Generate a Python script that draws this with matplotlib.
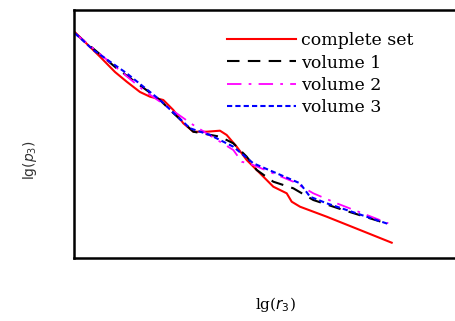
import matplotlib
matplotlib.use('Agg')
from matplotlib import pyplot as plt

# values (arbitrary lg units)
x_full = [75, 100, 115, 126.7, 140, 150, 163.3, 173.3, 183.3, 193.3, 206.7, 220, 226.7, 236.7,
          246.7, 260, 273.3, 286.7, 291.7, 300, 326.7, 360, 391.7]
y_full = [32.3, 56.7, 72, 81.7, 92, 96.7, 100, 110, 123.3, 131.7, 131.7, 130.7, 135, 146.7,
          160, 173.3, 186.7, 193.3, 201.7, 206.7, 216.7, 230, 242.7]

x_v1 = [75, 116.7, 160, 170, 193.3, 220, 233.3, 246.7, 256.7, 273.3, 293.3, 313.3, 343.3, 388.3]
y_v1 = [33.3, 68.3, 100, 110, 131.7, 136.7, 143.3, 156.7, 170, 181.7, 188.3, 200, 210, 224]

x_v2 = [75, 143.3, 193.3, 233.3, 241.7, 253.3, 293.3, 313.3, 336.7, 388.3]
y_v2 = [33.3, 90, 125, 150, 161.7, 165, 181.7, 193.3, 203.3, 223.3]

x_v3 = [75, 93.3, 126.7, 160, 190, 210, 233.3, 253.3, 276.7, 300, 310, 326.7, 388.3]
y_v3 = [33.3, 50, 73.3, 100, 128.3, 135, 146.7, 163.3, 173.3, 183.3, 196.7, 203.3, 224]

fig = plt.figure(figsize=(4.56, 3.21), dpi=100)
ax = fig.add_axes([74/456, 1-258/321, 382/456, 248/321])

ax.plot(x_full, y_full, color='red', lw=1.5, label='complete set')
ax.plot(x_v1, y_v1, color='black', lw=1.5, dashes=(6, 4), label='volume 1')
ax.plot(x_v2, y_v2, color='magenta', lw=1.3, dashes=(8, 4, 1.5, 4), label='volume 2')
ax.plot(x_v3, y_v3, color='blue', lw=1.5, dashes=(2.5, 1.5), label='volume 3')

ax.set_xlim(74, 456)
ax.set_ylim(258, 10)
ax.set_xticks([])
ax.set_yticks([])
for s in ['left', 'top', 'bottom']:
    ax.spines[s].set_linewidth(1.8)
ax.spines['right'].set_visible(False)

leg = ax.legend(loc='upper left', bbox_to_anchor=(0.40, 0.91), frameon=False,
                prop={'family': 'DejaVu Serif', 'size': 12.5}, handlelength=4.0,
                handletextpad=0.25, labelspacing=0.3, borderaxespad=0,
                borderpad=0)

fig.text(275/456, 1-305/321, r'lg($r_3$)', ha='center', va='center',
         family='DejaVu Serif', fontsize=11)
fig.text(30/456, 1-160/321, r'lg($p_3$)', ha='center', va='center',
         rotation=90, fontsize=10, color='#333333')

plt.savefig('out.png', dpi=100)
